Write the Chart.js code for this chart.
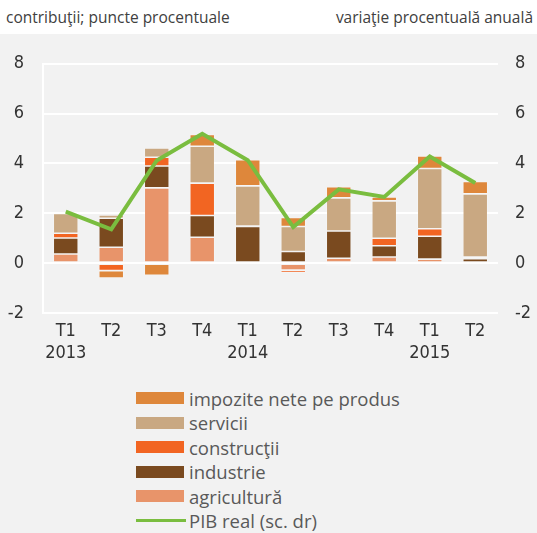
<!DOCTYPE html>
<html>
<head>
<meta charset="utf-8">
<script src="https://cdn.jsdelivr.net/npm/chart.js@4/dist/chart.umd.min.js"></script>
<style>
  html, body { margin: 0; padding: 0; background: #ffffff; }
  #wrap { position: relative; width: 537px; height: 533px; overflow: hidden; background: #ffffff; }
  #gray { position: absolute; left: 0; top: 34px; width: 537px; height: 499px; background: #f2f2f2; }
  .ttl { position: absolute; top: 6px; font-family: 'Open Sans', 'Noto Sans', sans-serif; font-size: 15.5px; color: #404040; white-space: nowrap; }
  #cv { position: absolute; left: 0; top: 34px; }
  #legend { position: absolute; left: 136px; top: 386px; font-family: 'Open Sans', 'Noto Sans', sans-serif; font-size: 18.5px; color: #595959; }
  .li { height: 24.5px; display: flex; align-items: center; white-space: nowrap; }
  .sw { width: 48px; height: 12px; margin-right: 5px; }
  .ln { width: 50px; height: 3px; margin-right: 3px; background: #7abd3f; }
</style>
</head>
<body>
<div id="wrap">
  <div id="gray"></div>
  <div class="ttl" style="left:6px;">contribuţii; puncte procentuale</div>
  <div class="ttl" style="right:4px;">variaţie procentuală anuală</div>
  <canvas id="cv" width="537" height="350"></canvas>
  <div id="legend"></div>
</div>
<script>
const categories = [['T1','2013'], 'T2', 'T3', 'T4', ['T1','2014'], 'T2', 'T3', 'T4', ['T1','2015'], 'T2'];
const agricultura = [0.37, 0.64, 3.02, 1.04, 0.04, -0.28, 0.20, 0.25, 0.16, -0.05];
const industrie   = [0.64, 1.16, 0.88, 0.87, 1.43, 0.47, 1.09, 0.45, 0.92, 0.18];
const constructii = [0.19, -0.30, 0.35, 1.30, 0.02, -0.10, -0.10, 0.30, 0.30, 0.07];
const servicii    = [0.79, 0.13, 0.37, 1.48, 1.61, 1.00, 1.33, 1.50, 2.42, 2.53];
const impozite    = [0.05, -0.30, -0.49, 0.47, 1.05, 0.36, 0.45, 0.16, 0.50, 0.50];
const pibReal     = [2.07, 1.36, 4.12, 5.19, 4.13, 1.45, 2.96, 2.66, 4.28, 3.22];
const yTicks = [-2, 0, 2, 4, 6, 8];

const colors = {
  impozite: '#de873b',
  servicii: '#c9a882',
  constructii: '#f26522',
  industrie: '#7a4a1f',
  agricultura: '#e8946a',
  pib: '#7abd3f'
};

const tickFont = { family: "'Liberation Sans Narrow', 'DejaVu Sans Condensed', 'DejaVu Sans', sans-serif", size: 18, weight: 'normal condensed' };

function barDs(label, data, color) {
  return {
    type: 'bar', label, data, backgroundColor: color,
    borderColor: 'rgba(255,255,255,0.3)', borderWidth: 0.8, borderSkipped: false,
    stack: 's', yAxisID: 'y', order: 2,
    barPercentage: 0.55, categoryPercentage: 1.0
  };
}

const chart = new Chart(document.getElementById('cv'), {
  data: {
    labels: categories,
    datasets: [
      barDs('agricultură', agricultura, colors.agricultura),
      barDs('industrie', industrie, colors.industrie),
      barDs('construcţii', constructii, colors.constructii),
      barDs('servicii', servicii, colors.servicii),
      barDs('impozite nete pe produs', impozite, colors.impozite),
      {
        type: 'line', label: 'PIB real (sc. dr)', data: pibReal, yAxisID: 'y1',
        borderColor: colors.pib, borderWidth: 4, pointRadius: 0, tension: 0,
        fill: false, order: 1
      }
    ]
  },
  options: {
    responsive: false,
    animation: false,
    layout: { padding: { top: 27, left: 0, right: 0, bottom: 0 } },
    plugins: { legend: { display: false }, tooltip: { enabled: false } },
    scales: {
      x: {
        stacked: true,
        grid: { display: false, drawTicks: false },
        border: { display: false },
        ticks: { color: '#333333', font: tickFont, padding: 8, maxRotation: 0, autoSkip: false },
        afterFit: s => { s.height = 71; }
      },
      y: {
        stacked: true, position: 'left', min: -2, max: 8,
        afterBuildTicks: s => { s.ticks = yTicks.map(v => ({ value: v })); },
        grid: { color: '#ffffff', lineWidth: 2, drawTicks: false },
        border: { display: true, color: '#ffffff', width: 2 },
        ticks: { color: '#333333', font: tickFont, padding: 19 },
        afterFit: s => { s.width = 43; }
      },
      y1: {
        position: 'right', min: -2, max: 8,
        afterBuildTicks: s => { s.ticks = yTicks.map(v => ({ value: v })); },
        grid: { display: false, drawTicks: false },
        border: { display: false },
        ticks: { color: '#333333', font: tickFont, padding: 17 },
        afterFit: s => { s.width = 39; }
      }
    }
  }
});

// HTML legend built from the chart's datasets (reverse order, line last)
const leg = document.getElementById('legend');
const order = [4, 3, 2, 1, 0, 5];
order.forEach(i => {
  const ds = chart.data.datasets[i];
  const row = document.createElement('div');
  row.className = 'li';
  const mark = document.createElement('div');
  if (ds.type === 'line') { mark.className = 'ln'; }
  else { mark.className = 'sw'; mark.style.background = ds.backgroundColor; }
  const txt = document.createElement('span');
  txt.textContent = ds.label;
  row.appendChild(mark); row.appendChild(txt);
  leg.appendChild(row);
});
</script>
</body>
</html>
